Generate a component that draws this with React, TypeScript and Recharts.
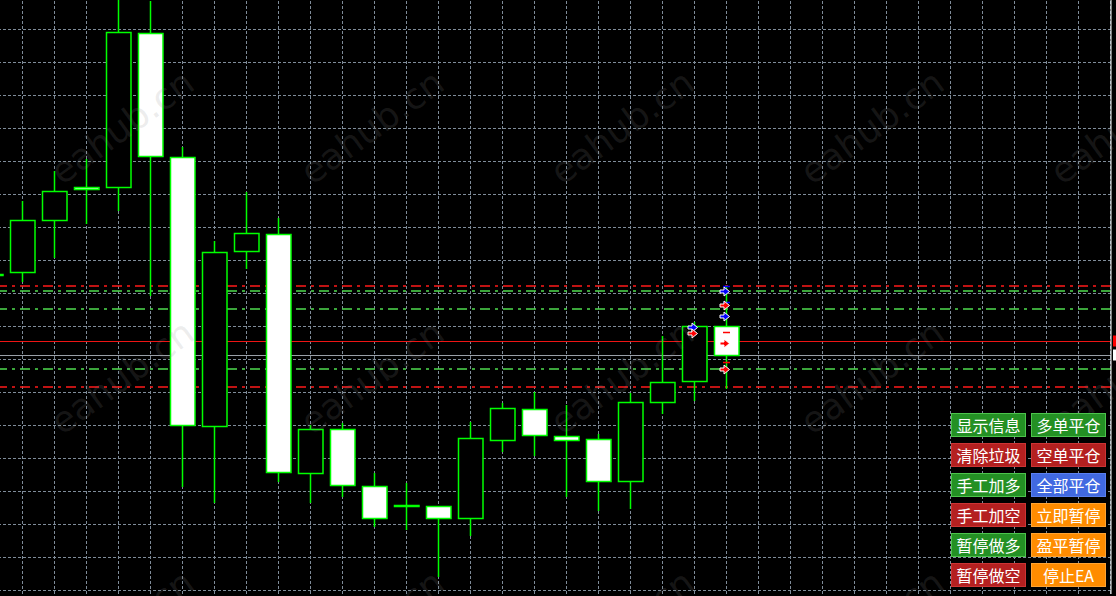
import React from 'react';
import { ComposedChart, Bar, XAxis, YAxis, ReferenceLine, Scatter } from 'recharts';

// bars, left to right (index -1 is only a sliver at the left edge)
const barIndex = [-1, 0, 1, 2, 3, 4, 5, 6, 7, 8, 9, 10, 11, 12, 13, 14, 15, 16, 17, 18, 19, 20, 21, 22];
const opens = [2332.6, 2332.8, 2338.0, 2341.3, 2341.3, 2356.7, 2344.3, 2317.4, 2334.9, 2336.6, 2312.7, 2317.1, 2311.4, 2309.4, 2309.4, 2308.2, 2316.0, 2319.1, 2316.4, 2316.1, 2311.9, 2319.8, 2321.9, 2327.4];
const highs = [2333.4, 2339.9, 2342.9, 2344.1, 2362.0, 2359.9, 2345.3, 2335.9, 2340.8, 2338.2, 2317.5, 2317.7, 2312.7, 2311.7, 2309.4, 2317.8, 2319.7, 2320.8, 2319.5, 2316.6, 2320.7, 2326.4, 2327.8, 2331.3];
const lows = [2331.0, 2331.8, 2334.2, 2337.6, 2338.9, 2330.4, 2311.3, 2309.7, 2333.1, 2311.8, 2309.7, 2310.3, 2307.3, 2307.0, 2302.3, 2306.4, 2314.8, 2314.4, 2310.3, 2308.9, 2309.1, 2318.6, 2319.9, 2321.1];
const closes = [2332.6, 2338.0, 2340.9, 2341.1, 2356.8, 2344.4, 2317.5, 2334.8, 2336.7, 2312.8, 2317.1, 2311.5, 2308.2, 2309.5, 2308.2, 2316.2, 2319.2, 2316.5, 2316.0, 2311.9, 2319.8, 2321.8, 2327.4, 2324.5];

// grid / axis ticks
const gridPrices = [2357.1, 2353.8, 2350.5, 2347.2, 2343.9, 2340.6, 2337.3, 2334.0, 2330.7, 2327.4, 2324.1, 2320.8, 2317.5, 2314.2, 2310.9, 2307.6, 2304.3, 2301.0];
const gridBars = [0, 1, 2, 3, 4, 5, 6, 7, 8, 9, 10, 11, 12, 13, 14, 15, 16, 17, 18, 19, 20, 21, 22, 23, 24, 25, 26, 27, 28, 29, 30, 31, 32, 33, 34];
const timeTicks = [1, 3, 5, 7, 9, 11, 13, 15, 17, 19, 21, 23, 25, 27, 29, 31, 33];

// order levels
const levelPrices = [2331.4, 2330.9, 2329.1, 2323.1, 2321.3];
const levelColors = ['#ff1a1a', '#4fdc4f', '#4fdc4f', '#4fdc4f', '#ff1a1a'];
const askPrice = 2325.9;
const bidPrice = 2324.5;

// trade arrows and stop marks
const arrowBars = [22, 22, 22, 22, 22, 21, 21];
const arrowPrices = [2330.9, 2329.5, 2328.4, 2325.7, 2323.1, 2327.3, 2326.7];
const arrowColors = ['#0000ff', '#ff0000', '#0000ff', '#ff0000', '#ff0000', '#0000ff', '#ff0000'];
const markBars = [22, 22, 22, 22];
const markPrices = [2331.4, 2329.8, 2326.8, 2323.8];
const markColors = ['#0000ff', '#0000ff', '#ff0000', '#ff0000'];

const buttonLabels = ['显示信息', '多单平仓', '清除垃圾', '空单平仓', '手工加多', '全部平仓', '手工加空', '立即暂停', '暂停做多', '盈平暂停', '暂停做空', '停止EA'];
const buttonKinds = ['green', 'green', 'red', 'red', 'green', 'blue', 'red', 'orange', 'green', 'orange', 'red', 'orange'];

const watermarkX = [122, 372, 622, 872, 1122];
const watermarkY = [127, 377, 627];

const BUTTON_STYLE: Record<string, { bg: string; border: string }> = {
  green: { bg: '#249024', border: '#4cc44c' },
  red: { bg: '#b42020', border: '#cc3434' },
  blue: { bg: '#4169e1', border: '#5a80f0' },
  orange: { bg: '#ff8c00', border: '#ffa332' },
};

const LIME = '#00ff00';
const GRID = '#7f8c99';

const candles = barIndex.map((i, k) => ({
  i,
  open: opens[k],
  high: highs[k],
  low: lows[k],
  close: closes[k],
  range: [lows[k], highs[k]],
}));

const arrows = arrowBars.map((i, k) => ({ i, p: arrowPrices[k], color: arrowColors[k] }));
const marks = markBars.map((i, k) => ({ i, p: markPrices[k], color: markColors[k] }));

const Candle = (props: any) => {
  const { x, y, width, height, payload } = props;
  if (payload == null) return null;
  const top0 = Math.min(y, y + height);
  const h = Math.abs(height);
  const cx = Math.round(x + width / 2) + 0.5;
  const span = payload.high - payload.low;
  const k = span > 0 ? h / span : 0;
  const yo = top0 + (payload.high - payload.open) * k;
  const yc = top0 + (payload.high - payload.close) * k;
  const bTop = Math.round(Math.min(yo, yc)) + 0.5;
  const bBot = Math.round(Math.max(yo, yc)) + 0.5;
  const bear = payload.close < payload.open;
  return (
    <g>
      <line x1={cx} x2={cx} y1={top0} y2={top0 + h} stroke={LIME} strokeWidth={1.5} />
      <rect
        x={cx - 12}
        y={bTop}
        width={24.5}
        height={Math.max(bBot - bTop, 1)}
        fill={bear ? '#ffffff' : '#000000'}
        stroke={LIME}
        strokeWidth={1.5}
      />
    </g>
  );
};

const Arrow = (props: any) => {
  const { cx, cy, payload } = props;
  const x = Math.round(cx);
  const y = Math.round(cy) + 0.5;
  const d = `M${x - 6},${y - 1.5} L${x - 2},${y - 1.5} L${x - 2},${y - 4.5} L${x + 3.5},${y} L${x - 2},${y + 4.5} L${x - 2},${y + 1.5} L${x - 6},${y + 1.5} Z`;
  return <path d={d} fill={payload.color} stroke="#ffffff" strokeWidth={1} />;
};

const Mark = (props: any) => {
  const { cx, cy, payload } = props;
  const x = Math.round(cx);
  const y = Math.round(cy) + 0.5;
  return <line x1={x - 3} x2={x + 4} y1={y} y2={y} stroke={payload.color} strokeWidth={1.5} />;
};

const priceTag = (color: string) => (p: any) => {
  const vb = p.viewBox || {};
  return <rect x={(vb.x || 0) + (vb.width || 0) + 2} y={(vb.y || 0) - 5.5} width={14} height={11} fill={color} />;
};

export default function App() {
  return (
    <div style={{ position: 'absolute', left: 0, top: 0, width: 1116, height: 596, background: '#000', overflow: 'hidden' }}>
      <ComposedChart width={1116} height={596} data={candles} margin={{ top: 0, right: 0, bottom: 2, left: 0 }}>
        <XAxis
          dataKey="i"
          type="number"
          domain={[-0.6875, 34.03125]}
          allowDataOverflow
          ticks={timeTicks}
          tick={false}
          mirror
          height={0}
          tickSize={3}
          axisLine={{ stroke: '#ffffff' }}
          tickLine={{ stroke: '#ffffff' }}
        />
        <YAxis
          orientation="right"
          type="number"
          domain={[2300.6, 2360.0]}
          allowDataOverflow
          ticks={gridPrices}
          tick={false}
          width={5}
          tickSize={4}
          axisLine={{ stroke: '#ffffff' }}
          tickLine={{ stroke: '#ffffff' }}
        />
        {gridBars.map((b) => (
          <ReferenceLine key={`gx-${b}`} zIndex={-90} x={b} stroke={GRID} strokeDasharray="3 2" shapeRendering="crispEdges" />
        ))}
        {gridPrices.map((p) => (
          <ReferenceLine key={`gy-${p}`} zIndex={-90} y={p} stroke={GRID} strokeDasharray="3 2" shapeRendering="crispEdges" />
        ))}
        {levelPrices.map((p, k) => (
          <ReferenceLine
            key={`lv-${k}`}
            zIndex={-80}
            y={p}
            stroke={levelColors[k]}
            strokeDasharray="10 5 3 5"
            strokeWidth={1.5}
          />
        ))}
        <ReferenceLine zIndex={-80} y={askPrice} stroke="#ee1414" strokeWidth={1} shapeRendering="crispEdges" label={priceTag('#ff0000')} />
        <ReferenceLine zIndex={-80} y={bidPrice} stroke="#9aa0a8" strokeWidth={1} shapeRendering="crispEdges" label={priceTag('#ffffff')} />
        <Bar zIndex={500} dataKey="range" barSize={24} shape={Candle} isAnimationActive={false} />
        <Scatter zIndex={600} data={marks} dataKey="p" shape={Mark} isAnimationActive={false} />
        <Scatter zIndex={600} data={arrows} dataKey="p" shape={Arrow} isAnimationActive={false} />
      </ComposedChart>

      <svg width={1116} height={596} style={{ position: 'absolute', left: 0, top: 0, pointerEvents: 'none' }}>
        {watermarkY.map((wy) =>
          watermarkX.map((wx) => (
            <text
              key={`${wx}-${wy}`}
              x={wx}
              y={wy}
              textAnchor="middle"
              dominantBaseline="central"
              transform={`rotate(-36 ${wx} ${wy})`}
              fontFamily="DejaVu Sans, sans-serif"
              fontSize={36}
              fill="rgba(140,140,140,0.17)"
            >
              eahub.cn
            </text>
          ))
        )}
      </svg>

      {buttonLabels.map((label, k) => {
        const col = k % 2;
        const row = Math.floor(k / 2);
        const st = BUTTON_STYLE[buttonKinds[k]];
        return (
          <div
            key={label}
            style={{
              position: 'absolute',
              left: col === 0 ? 951 : 1031,
              top: 413 + row * 30,
              width: 75,
              height: 24,
              boxSizing: 'border-box',
              background: st.bg,
              border: `1px solid ${st.border}`,
              color: '#ffffff',
              fontFamily: '"Noto Sans CJK SC", sans-serif',
              fontSize: 16,
              lineHeight: '22px',
              textAlign: 'center',
              whiteSpace: 'nowrap',
            }}
          >
            {label}
          </div>
        );
      })}
    </div>
  );
}
